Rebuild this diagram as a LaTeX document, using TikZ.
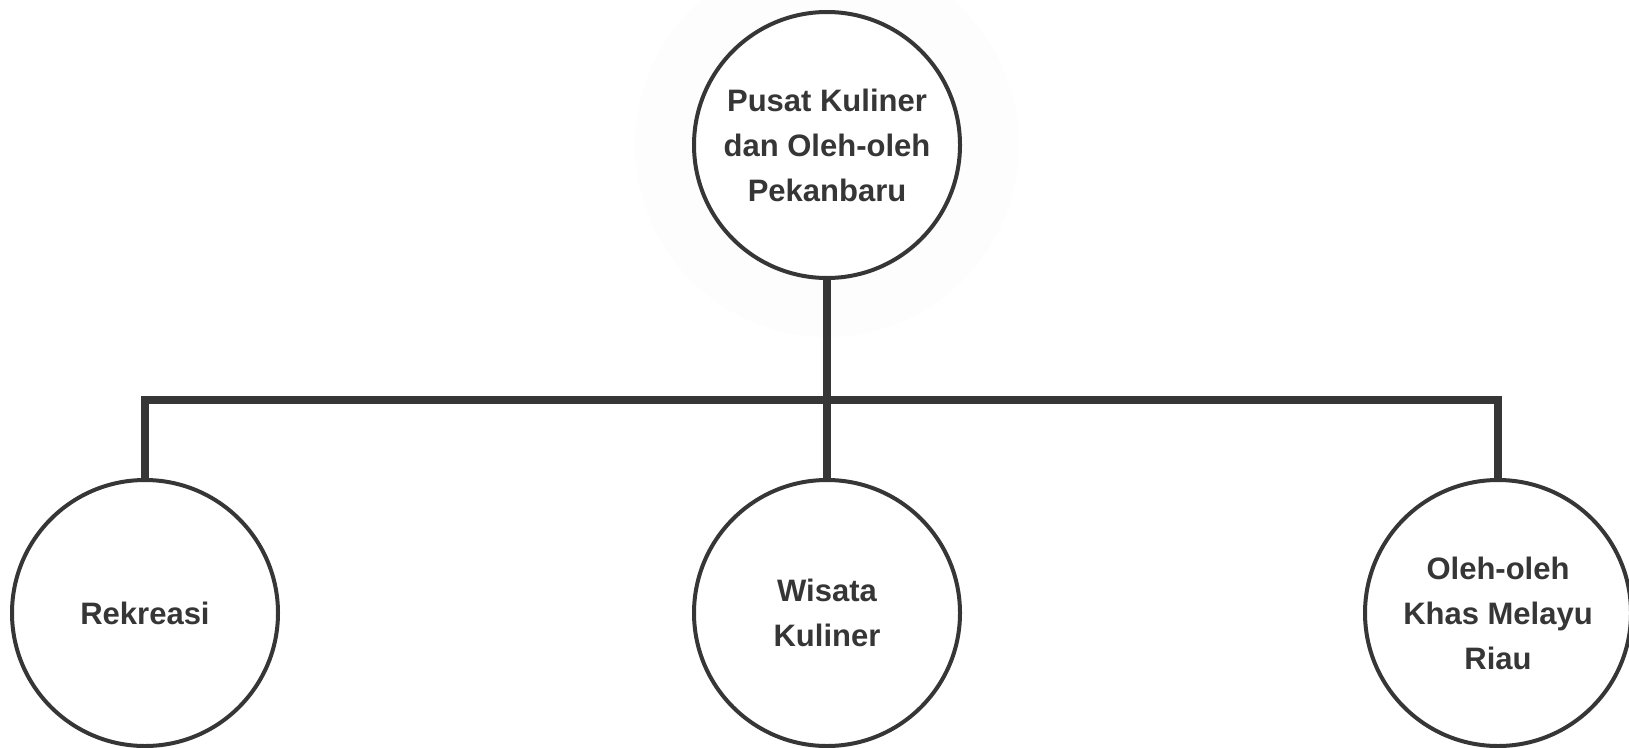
\documentclass[tikz,border=0pt]{standalone}
\usepackage{fontspec}
\setmainfont{Liberation Sans}
\definecolor{ink}{HTML}{363636}
\definecolor{halo}{HTML}{FDFDFD}
\begin{document}
\begin{tikzpicture}[x=1pt,y=-1pt,
  bubble/.style={circle, draw=ink, line width=4pt, fill=white, minimum size=266pt,
    inner sep=0pt, align=center, text=ink,
    font=\bfseries\fontsize{31}{45}\selectfont},
  conn/.style={draw=ink, line width=8pt, line join=miter}]
\useasboundingbox (0,0) rectangle (1629,747);
\fill[halo] (827,145) circle (192);
\node[bubble] (top) at (827,145) {Pusat Kuliner\\dan Oleh-oleh\\Pekanbaru};
\node[bubble] (rek) at (145,613) {Rekreasi};
\node[bubble] (wis) at (827,613) {Wisata\\Kuliner};
\node[bubble] (ole) at (1498,613) {Oleh-oleh\\Khas Melayu\\Riau};
\coordinate (jl) at (145,400);
\coordinate (jr) at (1498,400);
\draw[conn] (rek.north) -- (jl) -- (jr) -- (ole.north);
\draw[conn] (top.south) -- (wis.north);
\end{tikzpicture}
\end{document}
